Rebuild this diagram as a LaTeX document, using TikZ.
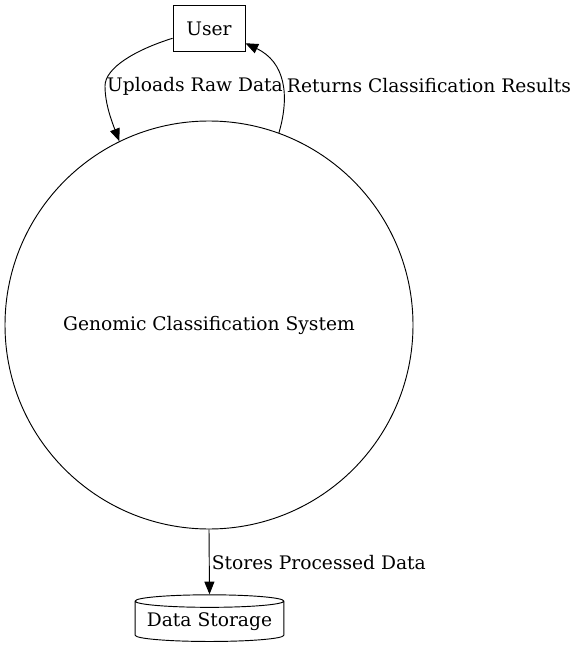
\documentclass[tikz,border=0pt]{standalone}
\usepackage{fontspec}
\setmainfont{DejaVu Serif}
\usetikzlibrary{arrows.meta, shapes.geometric}

\begin{document}
\begin{tikzpicture}[x=0.75pt, y=-0.75pt, font=\fontsize{14pt}{16pt}\selectfont,
  line width=0.7pt,
  flow/.style={draw, -{Triangle[length=9.5pt, width=7.5pt]}},
  lbl/.style={inner sep=1pt}]
\useasboundingbox (0,0) rectangle (578,652);
% ---- nodes
\node[draw, minimum width=54pt, minimum height=35pt, inner sep=0pt] (user) at (209,28.5) {User};
\node[draw, circle, minimum size=306pt, inner sep=0pt] (sys) at (209,325) {Genomic Classification System};
\node[draw, cylinder, shape border rotate=90, aspect=0.1, minimum width=111.5pt, minimum height=35pt, inner sep=0pt] (store) at (209.5,621.5) {Data Storage};
% ---- user to system
\coordinate (upmid) at (105,86);
\draw[flow] (user.195) .. controls (135,50) and (105,68) .. (upmid)
  .. controls (105,104) and (112,122) .. (sys.116.6);
\node[lbl] (uplbl) at (195,86) {Uploads Raw Data};
% ---- system back to user
\draw[flow] (sys.70.4) .. controls (290,95) and (285,62) .. (user.-22);
\node[lbl] (retlbl) at (429,86) {Returns Classification Results};
% ---- system to storage
\draw[flow] (sys.south) -- (store.north);
\node[lbl, anchor=west] (storelbl) at (210,563) {Stores Processed Data};
\end{tikzpicture}
\end{document}
